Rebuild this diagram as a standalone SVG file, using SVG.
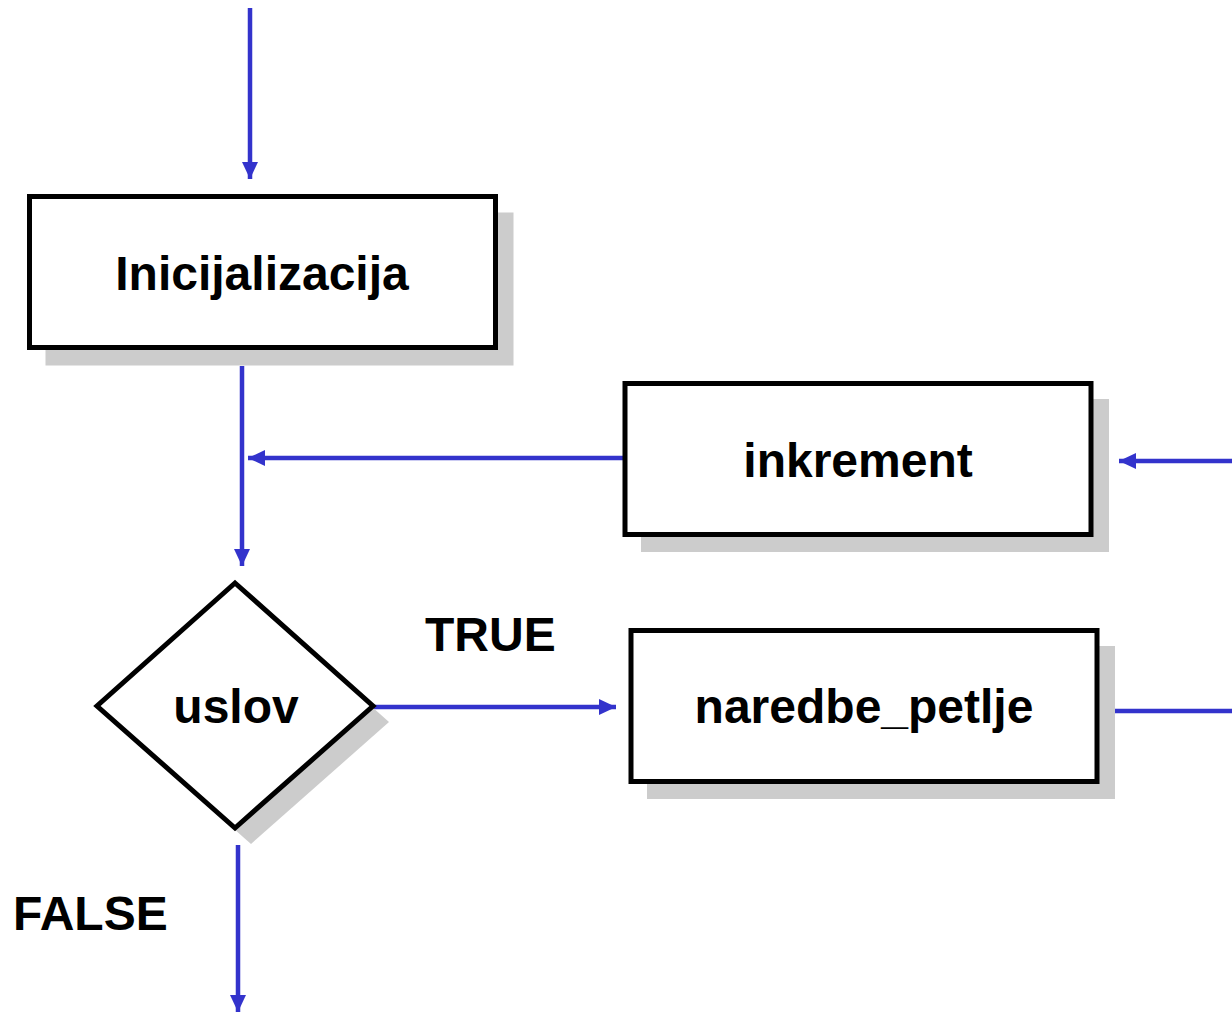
<svg xmlns="http://www.w3.org/2000/svg" width="1232" height="1013" viewBox="0 0 1232 1013">
  <defs>
    <marker id="arrow" viewBox="0 0 17 16" refX="17" refY="8" markerWidth="17" markerHeight="16" markerUnits="userSpaceOnUse" orient="auto">
      <path d="M0,0 L17,8 L0,16 Z" fill="#3333cc"/>
    </marker>
  </defs>
  <style>
    .shadow { fill: #cccccc; stroke: none; }
    .box { fill: #ffffff; stroke: #000000; stroke-width: 5; }
    .label { font-family: "Liberation Sans", Arial, sans-serif; font-weight: bold; font-size: 48px; fill: #000000; }
    .flow { fill: none; stroke: #3333cc; stroke-width: 4.5; }
  </style>
  <rect width="1232" height="1013" fill="#ffffff"/>

  <g id="connectors">
    <line class="flow" x1="250" y1="8" x2="250" y2="179" marker-end="url(#arrow)"/>
    <line class="flow" x1="242" y1="366" x2="242" y2="566" marker-end="url(#arrow)"/>
    <line class="flow" x1="624" y1="458" x2="248" y2="458" marker-end="url(#arrow)"/>
    <line class="flow" x1="1232" y1="461" x2="1119" y2="461" marker-end="url(#arrow)"/>
    <line class="flow" x1="373" y1="707" x2="616" y2="707" marker-end="url(#arrow)"/>
    <line class="flow" x1="1112" y1="711" x2="1232" y2="711"/>
    <line class="flow" x1="238" y1="845" x2="238" y2="1012" marker-end="url(#arrow)"/>
  </g>

  <g id="inicijalizacija">
    <rect class="shadow" x="45.5" y="212.5" width="468" height="153"/>
    <rect class="box" x="29.5" y="196.5" width="466" height="151"/>
    <text class="label" x="262" y="290" text-anchor="middle">Inicijalizacija</text>
  </g>

  <g id="inkrement">
    <rect class="shadow" x="641" y="399" width="468" height="153"/>
    <rect class="box" x="625" y="383.5" width="466" height="151"/>
    <text class="label" x="858" y="477" text-anchor="middle">inkrement</text>
  </g>

  <g id="uslov">
    <polygon class="shadow" points="251,599 389,722 251,844 113,722"/>
    <polygon class="box" points="235,583 373,706 235,828 97,706"/>
    <text class="label" x="236" y="723" text-anchor="middle">uslov</text>
  </g>

  <g id="naredbe_petlje">
    <rect class="shadow" x="647" y="646" width="468" height="153"/>
    <rect class="box" x="631" y="630.5" width="466" height="151"/>
    <text class="label" x="864" y="723" text-anchor="middle">naredbe_petlje</text>
  </g>

  <g id="labels">
    <text class="label" x="425" y="651">TRUE</text>
    <text class="label" x="13" y="930">FALSE</text>
  </g>
</svg>
